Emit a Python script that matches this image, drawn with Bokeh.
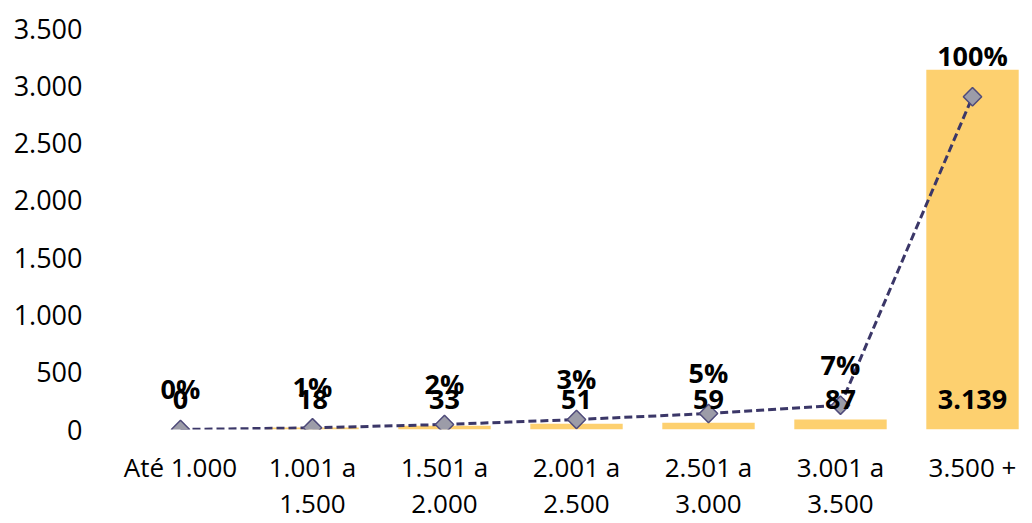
import math
from bokeh.plotting import figure
from bokeh.models import Range1d, FixedTicker
from bokeh.core.properties import value
from bokeh.embed import file_html
from bokeh.resources import INLINE

# ---- data ----
categories = ["Até 1.000", "1.001 a\n1.500", "1.501 a\n2.000", "2.001 a\n2.500",
              "2.501 a\n3.000", "3.001 a\n3.500", "3.500 +"]
counts = [0, 18, 33, 51, 59, 87, 3139]
count_labels = ["0", "18", "33", "51", "59", "87", "3.139"]
cum_pct = [0.0, 0.005, 0.015, 0.030, 0.048, 0.073, 1.0]
pct_labels = ["0%", "1%", "2%", "3%", "5%", "7%", "100%"]
y_ticks = [0, 500, 1000, 1500, 2000, 2500, 3000, 3500]
y_tick_labels = ["0", "500", "1.000", "1.500", "2.000", "2.500", "3.000", "3.500"]

xs = list(range(len(categories)))

FONT = "Open Sans"
BAR = "#FDD06F"
LINE = "#3B3768"

p = figure(width=1032, height=523, output_backend="svg", toolbar_location=None,
           x_range=Range1d(-0.5, 6.4545), y_range=Range1d(0, 3500),
           min_border_left=114, min_border_right=0, min_border_top=28,
           min_border_bottom=92)
p.extra_y_ranges = {"pct": Range1d(0, 1.205)}

p.vbar(x=xs, top=counts, width=0.7, fill_color=BAR, line_color=None)

p.line(xs, cum_pct, y_range_name="pct", line_color=LINE, line_width=3,
       line_dash="8 4")
p.scatter(xs, cum_pct, y_range_name="pct", marker="square", angle=math.pi / 4,
          size=13, fill_color="#9C9CA8", line_color="#4F4B7A", line_width=1.5)

p.text(x=xs, y=[0] * len(xs), text=count_labels, y_offset=-30,
       text_align="center", text_baseline="middle",
       text_font=value(FONT), text_font_style="bold", text_font_size="27px",
       text_color="#000000")
p.text(x=xs, y=cum_pct, y_range_name="pct", text=pct_labels, y_offset=-41,
       text_align="center", text_baseline="middle",
       text_font=value(FONT), text_font_style="bold", text_font_size="27px",
       text_color="#000000")

# axes
p.xaxis.ticker = FixedTicker(ticks=xs)
p.xaxis.major_label_overrides = {i: c for i, c in zip(xs, categories)}
p.yaxis.ticker = FixedTicker(ticks=y_ticks)
p.yaxis.major_label_overrides = {t: l for t, l in zip(y_ticks, y_tick_labels)}
for ax in (p.xaxis, p.yaxis):
    ax.axis_line_color = None
    ax.major_tick_line_color = None
    ax.minor_tick_line_color = None
    ax.major_label_text_font = FONT
    ax.major_label_text_color = "#000000"
p.yaxis.major_label_text_font_size = "27px"
p.xaxis.major_label_text_font_size = "26px"
p.yaxis.major_label_standoff = 26
p.xaxis.major_label_standoff = 13
p.xaxis.major_label_text_line_height = 1.0

p.xgrid.grid_line_color = None
p.ygrid.grid_line_color = None
p.outline_line_color = None

open("out.html", "w").write(file_html(p, INLINE))
